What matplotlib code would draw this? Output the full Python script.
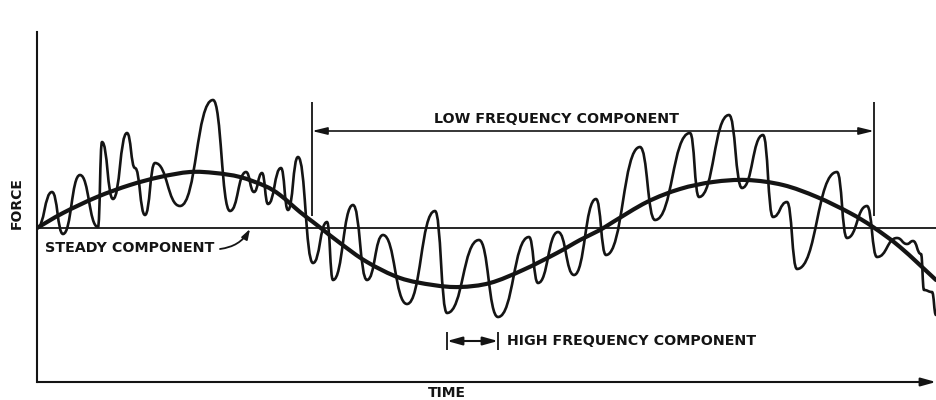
import matplotlib

matplotlib.use("Agg")
import matplotlib.pyplot as plt
from matplotlib.patches import PathPatch
from matplotlib.path import Path

# time and force in arbitrary units, steady component sits at force 0
steady_force = 0

# slow swing of the force (low frequency component)
low_time = [0, 26, 60, 93, 123, 153, 178, 203, 228, 243, 263, 276, 285, 303, 330,
            363, 396, 423, 453, 486, 520, 543, 563, 576, 610, 643, 676, 710, 746,
            780, 813, 836, 863, 899]
low_force = [0, 15, 31, 43, 51, 56, 55, 51, 42, 33, 16, 6, -1, -15, -34,
             -50, -57, -59, -55, -42, -25, -12, -2, 6, 26, 39, 46, 48, 43,
             31, 15, 1, -19, -52]

# peaks and troughs of the measured force trace
wave_time = [0, 15, 26, 43, 61, 65, 76, 90, 98, 108, 118, 143, 176, 193, 209, 217,
             225, 231, 244, 251, 261, 276, 290, 296, 316, 330, 346, 370, 398, 410,
             442, 461, 492, 501, 521, 537, 559, 569, 603, 618, 653, 662, 692, 705,
             726, 736, 750, 760, 800, 810, 830, 840, 860, 870, 876, 884, 887, 895, 899]
wave_force = [0, 36, -6, 53, 1, 86, 29, 95, 60, 13, 65, 22, 128, 17, 56, 36,
              55, 24, 60, 18, 71, -35, 6, -52, 23, -52, -7, -76, 17, -85,
              -12, -89, -9, -55, -4, -47, 29, -27, 81, 8, 95, 31, 113, 40,
              93, 11, 26, -41, 56, -10, 22, -29, -10, -16, -13, -26, -62, -64, -87]

low_span = (275, 837)
high_span = (410, 461)

INK = "#141414"
FONT = "DejaVu Sans"


def wave_path(times, forces, pull=0.5):
    # smooth strokes between successive extremes, flat at each peak/trough
    verts = [(times[0], forces[0])]
    codes = [Path.MOVETO]
    for i in range(1, len(times)):
        t0, f0 = times[i - 1], forces[i - 1]
        t1, f1 = times[i], forces[i]
        dt = (t1 - t0) * pull
        verts += [(t0 + dt, f0), (t1 - dt, f1), (t1, f1)]
        codes += [Path.CURVE4] * 3
    return Path(verts, codes)


def smooth_path(times, forces):
    # catmull-rom style bezier through the read points
    pts = list(zip(times, forces))
    verts = [pts[0]]
    codes = [Path.MOVETO]
    n = len(pts)
    for i in range(n - 1):
        p0 = pts[max(i - 1, 0)]
        p1 = pts[i]
        p2 = pts[i + 1]
        p3 = pts[min(i + 2, n - 1)]
        c1 = (p1[0] + (p2[0] - p0[0]) / 6, p1[1] + (p2[1] - p0[1]) / 6)
        c2 = (p2[0] - (p3[0] - p1[0]) / 6, p2[1] - (p3[1] - p1[1]) / 6)
        verts += [c1, c2, p2]
        codes += [Path.CURVE4] * 3
    return Path(verts, codes)


fig = plt.figure(figsize=(9.36, 4), dpi=100)
ax = fig.add_axes([37 / 936, 18 / 400, 899 / 936, 350 / 400])
ax.set_xlim(0, 899)
ax.set_ylim(-154, 196)
ax.set_xticks([])
ax.set_yticks([])
for side in ("top", "right", "bottom"):
    ax.spines[side].set_visible(False)
ax.spines["left"].set_linewidth(1.5)
ax.spines["left"].set_color(INK)

# time axis with arrow
ax.annotate(
    "", xy=(1.0, 0), xytext=(0, 0),
    xycoords="axes fraction", textcoords="axes fraction",
    arrowprops=dict(arrowstyle="-|>,head_length=0.9,head_width=0.25", lw=1.5,
                    color=INK, shrinkA=0, shrinkB=0),
    annotation_clip=False,
)

ax.axhline(steady_force, color=INK, lw=1.3)
ax.add_patch(PathPatch(smooth_path(low_time, low_force), fill=False, ec=INK,
                       lw=3.0, joinstyle="round", capstyle="round"))
ax.add_patch(PathPatch(wave_path(wave_time, wave_force), fill=False, ec=INK,
                       lw=1.9, joinstyle="round", capstyle="round"))

text_kw = dict(color=INK, fontsize=10.3, fontweight="bold", family=FONT)

# low frequency span
ax.vlines(low_span, 12, 126, color=INK, lw=1.3)
ax.annotate(
    "", xy=(low_span[0], 97), xytext=(low_span[1], 97),
    arrowprops=dict(arrowstyle="<|-|>,head_length=0.9,head_width=0.22", lw=1.2,
                    color=INK, shrinkA=0, shrinkB=0),
)
ax.text(520, 109, "LOW FREQUENCY COMPONENT", ha="center", va="center", **text_kw)

# steady component label
ax.text(8, -20, "STEADY COMPONENT", ha="left", va="center", **text_kw)
ax.annotate(
    "", xy=(213, -1), xytext=(183, -21),
    arrowprops=dict(arrowstyle="-|>,head_length=0.6,head_width=0.2", lw=1.3,
                    color=INK, shrinkA=0, shrinkB=0,
                    connectionstyle="arc3,rad=0.25"),
)

# high frequency span
ax.vlines(high_span, -122, -104, color=INK, lw=1.3)
ax.annotate(
    "", xy=(high_span[0], -113), xytext=(high_span[1], -113),
    arrowprops=dict(arrowstyle="<|-|>,head_length=0.9,head_width=0.25", lw=1.5,
                    color=INK, shrinkA=0, shrinkB=0),
)
ax.text(470, -113, "HIGH FREQUENCY COMPONENT", ha="left", va="center", **text_kw)

ax.text(-20, 25, "FORCE", rotation=90, ha="center", va="center", clip_on=False,
        color=INK, fontsize=10, fontweight="bold", family=FONT)
ax.text(410, -165, "TIME", ha="center", va="center", clip_on=False,
        color=INK, fontsize=10, fontweight="bold", family=FONT)

fig.savefig("out.png", dpi=100, facecolor="white")
